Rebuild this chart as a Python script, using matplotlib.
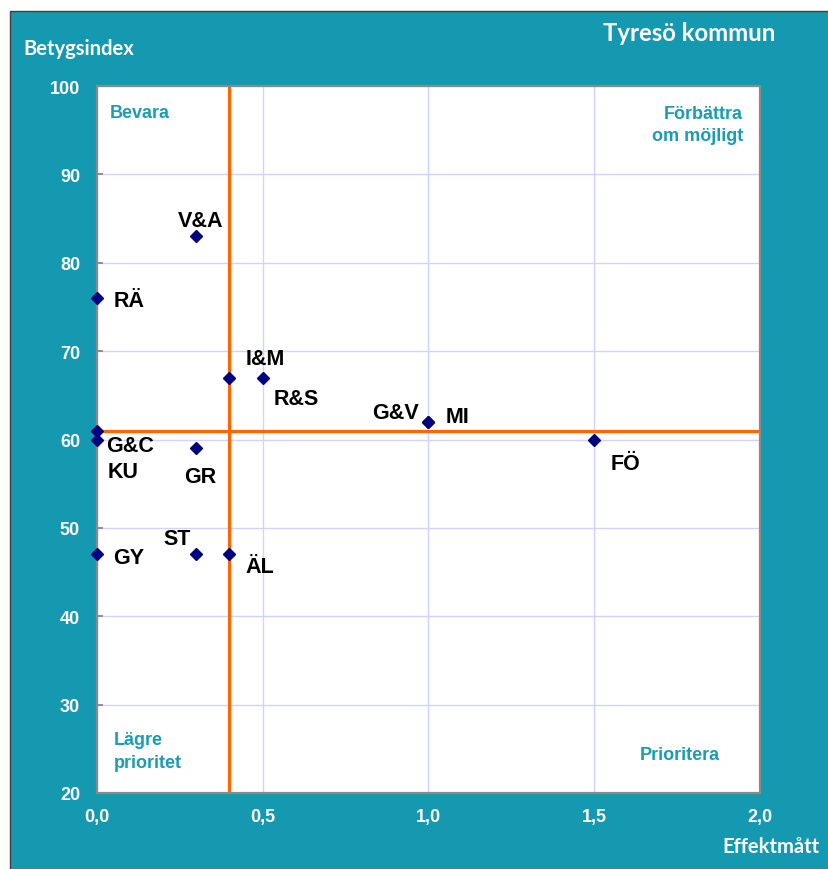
import matplotlib
matplotlib.use("Agg")
import matplotlib.pyplot as plt
from matplotlib.patches import Rectangle

# ---- data ----
labels = ["V&A", "RÄ", "I&M", "R&S", "G&V", "MI", "G&C", "KU", "GR", "FÖ", "ST", "GY", "ÄL"]
effekt = [0.3, 0.0, 0.4, 0.5, 1.0, 1.0, 0.0, 0.0, 0.3, 1.5, 0.3, 0.0, 0.4]
betyg = [83, 76, 67, 67, 62, 62, 61, 60, 59, 60, 47, 47, 47]
x_ticks = [0.0, 0.5, 1.0, 1.5, 2.0]
x_ticklabels = ["0,0", "0,5", "1,0", "1,5", "2,0"]
y_ticks = [20, 30, 40, 50, 60, 70, 80, 90, 100]
x_threshold = 0.4
y_threshold = 61

# label offsets (pixels: dx right, dy up) and alignment
label_pos = {
    "V&A": (4.2, 10.0, "center"),
    "RÄ": (17.3, -7.8, "left"),
    "I&M": (36.0, 13.9, "center"),
    "R&S": (33.3, -26.6, "center"),
    "G&V": (-33.2, 4.3, "center"),
    "MI": (29.3, -0.4, "center"),
    "G&C": (9.3, -20.0, "left"),
    "KU": (11.3, -37.7, "left"),
    "GR": (4.2, -33.9, "center"),
    "FÖ": (31.3, -29.4, "center"),
    "ST": (-18.8, 10.7, "center"),
    "GY": (16.6, -8.3, "left"),
    "ÄL": (30.5, -17.5, "center"),
}

BG = "#1599b0"
QTXT = "#1a9cb3"
W, H = 829, 870
ARIAL = ["Liberation Sans", "DejaVu Sans"]
CALIBRI = ["Lato", "DejaVu Sans"]

fig = plt.figure(figsize=(W / 100, H / 100), dpi=100, facecolor="white")
fig.patches.append(Rectangle((10.5 / W, -0.05), 1.0, 1.05 - 11.5 / H,
                             transform=fig.transFigure, facecolor=BG,
                             edgecolor="#404040", lw=1.0, zorder=-1))

left, right, top, bottom = 96.7, 760, 87, 794
ax = fig.add_axes([left / W, 1 - bottom / H, (right - left) / W, (bottom - top) / H])
ax.set_facecolor("white")
ax.set_xlim(0, 2.0)
ax.set_ylim(20, 100)

ax.set_xticks(x_ticks)
ax.set_xticklabels(x_ticklabels)
ax.set_yticks(y_ticks)
for lab in ax.get_xticklabels() + ax.get_yticklabels():
    lab.set_family(ARIAL)
    lab.set_fontweight("bold")
    lab.set_fontsize(13)
    lab.set_color("white")
ax.tick_params(axis="y", direction="in", length=4.5, width=1.2, color="#808080", pad=12)
ax.tick_params(axis="x", direction="in", length=0, pad=11)

ax.grid(True, color="#d2d2ff", lw=1.0, zorder=0)
for s in ax.spines.values():
    s.set_color("#8a8a8a")
    s.set_linewidth(1.6)

ax.axvline(x_threshold, color="#ff6600", lw=2.3, zorder=2)
ax.axhline(y_threshold, color="#ff6600", lw=2.3, zorder=2)

ax.plot(effekt, betyg, linestyle="none", marker="D", ms=6.5, color="#000080",
        zorder=4, clip_on=False)

for name, xv, yv in zip(labels, effekt, betyg):
    dx, dy, ha = label_pos[name]
    ax.annotate(name, (xv, yv), xytext=(dx * 0.72, dy * 0.72),
                textcoords="offset points", ha=ha, va="baseline",
                fontsize=15.5, fontweight="bold", family=ARIAL, color="black",
                zorder=5)

# quadrant labels
qkw = dict(fontsize=13, fontweight="bold", family=ARIAL, color=QTXT,
           transform=fig.transFigure, linespacing=1.4)
fig.text(109.5 / W, 1 - 113.5 / H, "Bevara", ha="left", va="center", **qkw)
fig.text(743 / W, 1 - 125.5 / H, "Förbättra\nom möjligt", ha="right", va="center",
         multialignment="right", **qkw)
fig.text(114 / W, 1 - 752 / H, "Lägre\nprioritet", ha="left", va="center",
         multialignment="left", **qkw)
fig.text(719.5 / W, 1 - 755.5 / H, "Prioritera", ha="right", va="center", **qkw)

# titles
fig.text(602.7 / W, 1 - 40.7 / H, "Tyresö kommun", ha="left", va="baseline",
         fontsize=17.2, fontweight="bold", family=CALIBRI, color="white")
fig.text(23.3 / W, 1 - 55 / H, "Betygsindex", ha="left", va="baseline",
         fontsize=14.5, fontweight="bold", family=CALIBRI, color="white")
fig.text(722.7 / W, 1 - 853.3 / H, "Effektmått", ha="left", va="baseline",
         fontsize=14.5, fontweight="bold", family=CALIBRI, color="white")

fig.savefig("out.png", dpi=100, facecolor="white")
